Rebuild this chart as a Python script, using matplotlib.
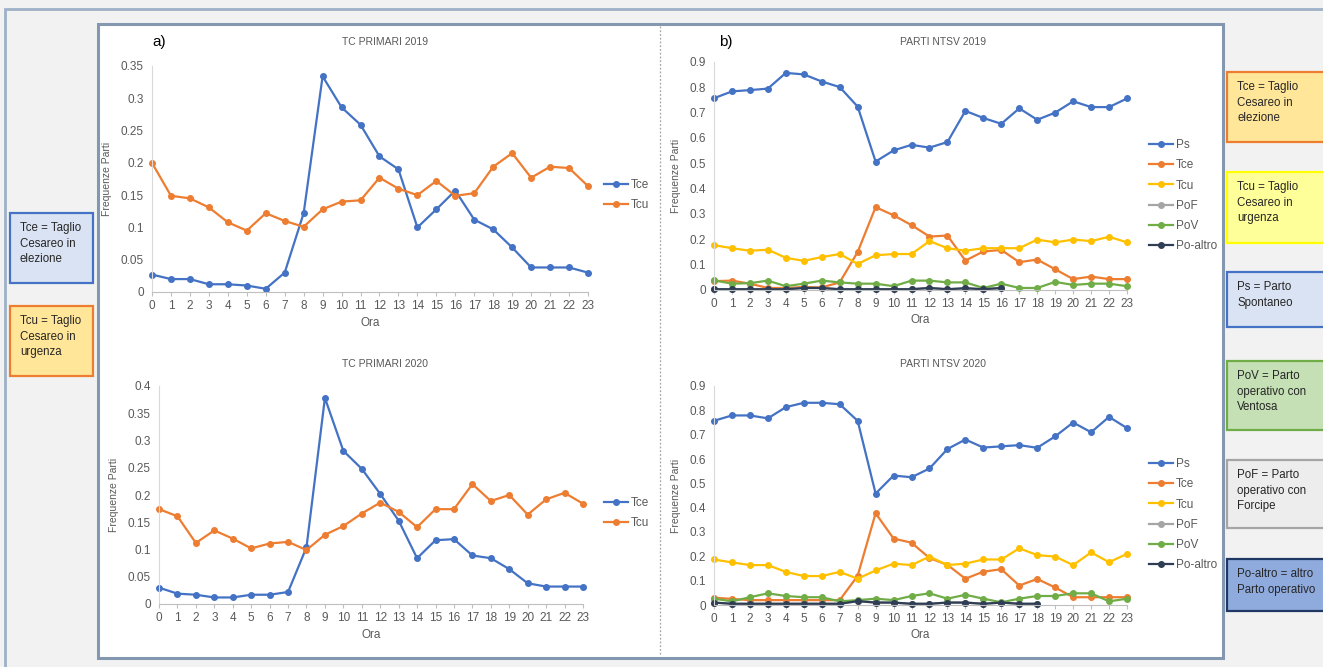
import matplotlib
matplotlib.use("Agg")
import matplotlib.pyplot as plt
from matplotlib.patches import Rectangle
from matplotlib.lines import Line2D

plt.rcParams.update({"font.family": ["Liberation Sans", "DejaVu Sans"], "font.size": 8})

W, H = 1323, 667
INK = "#595959"
BLUE, ORANGE, GREY, YELLOW, GREEN, NAVY = "#4472C4", "#ED7D31", "#A5A5A5", "#FFC000", "#70AD47", "#2F3E54"

hours = list(range(24))

# TC PRIMARI 2019
tc19_tce = [0.027, 0.020, 0.020, 0.012, 0.012, 0.010, 0.005, 0.030, 0.122, 0.334, 0.286, 0.259,
            0.210, 0.190, 0.100, 0.128, 0.157, 0.112, 0.097, 0.069, 0.038, 0.038, 0.038, 0.030]
tc19_tcu = [0.200, 0.149, 0.145, 0.131, 0.108, 0.095, 0.122, 0.110, 0.101, 0.128, 0.140, 0.142,
            0.177, 0.160, 0.150, 0.172, 0.149, 0.153, 0.194, 0.215, 0.177, 0.194, 0.192, 0.164]

# TC PRIMARI 2020
tc20_tce = [0.030, 0.019, 0.017, 0.012, 0.012, 0.017, 0.017, 0.022, 0.104, 0.378, 0.281, 0.248,
            0.202, 0.153, 0.084, 0.117, 0.119, 0.089, 0.084, 0.064, 0.038, 0.032, 0.032, 0.032]
tc20_tcu = [0.174, 0.161, 0.112, 0.135, 0.120, 0.102, 0.111, 0.114, 0.099, 0.127, 0.143, 0.166,
            0.186, 0.169, 0.141, 0.174, 0.174, 0.220, 0.189, 0.200, 0.164, 0.192, 0.204, 0.184]

# PARTI NTSV 2019
nt19_ps = [0.757, 0.784, 0.789, 0.795, 0.857, 0.851, 0.823, 0.801, 0.724, 0.507, 0.551, 0.573,
           0.562, 0.584, 0.707, 0.679, 0.656, 0.717, 0.672, 0.700, 0.745, 0.722, 0.722, 0.756]
nt19_tce = [0.035, 0.037, 0.025, 0.008, 0.008, 0.012, 0.010, 0.030, 0.150, 0.327, 0.295, 0.256,
            0.211, 0.215, 0.116, 0.152, 0.158, 0.110, 0.120, 0.082, 0.043, 0.053, 0.043, 0.043]
nt19_tcu = [0.177, 0.165, 0.155, 0.159, 0.127, 0.115, 0.130, 0.142, 0.103, 0.137, 0.142, 0.142,
            0.193, 0.165, 0.155, 0.165, 0.165, 0.165, 0.199, 0.188, 0.199, 0.193, 0.210, 0.188]
nt19_pov = [0.038, 0.025, 0.027, 0.037, 0.015, 0.025, 0.037, 0.030, 0.025, 0.025, 0.015, 0.037,
            0.037, 0.030, 0.030, 0.008, 0.025, 0.008, 0.008, 0.032, 0.020, 0.025, 0.025, 0.015]
nt19_alt = [0.003, 0.003, 0.003, 0.003, 0.003, 0.008, 0.008, 0.003, 0.003, 0.003, 0.003, 0.003,
            0.008, 0.003, 0.007, 0.003, 0.008]
nt19_pof = nt19_alt  # hidden under Po-altro

# PARTI NTSV 2020
nt20_ps = [0.757, 0.779, 0.779, 0.767, 0.813, 0.831, 0.831, 0.825, 0.757, 0.458, 0.532, 0.525,
           0.561, 0.641, 0.680, 0.647, 0.652, 0.657, 0.646, 0.693, 0.750, 0.710, 0.773, 0.727]
nt20_tce = [0.030, 0.025, 0.020, 0.020, 0.020, 0.020, 0.020, 0.020, 0.120, 0.377, 0.273, 0.256,
            0.193, 0.165, 0.108, 0.137, 0.147, 0.080, 0.107, 0.072, 0.032, 0.032, 0.032, 0.032]
nt20_tcu = [0.187, 0.175, 0.164, 0.164, 0.136, 0.119, 0.119, 0.136, 0.108, 0.142, 0.170, 0.164,
            0.199, 0.164, 0.170, 0.187, 0.187, 0.233, 0.205, 0.199, 0.164, 0.216, 0.176, 0.210]
nt20_pov = [0.026, 0.015, 0.032, 0.048, 0.037, 0.032, 0.032, 0.015, 0.020, 0.026, 0.020, 0.037,
            0.048, 0.026, 0.042, 0.026, 0.011, 0.026, 0.037, 0.037, 0.048, 0.048, 0.015, 0.026]
nt20_alt = [0.010, 0.005, 0.005, 0.005, 0.005, 0.005, 0.005, 0.005, 0.016, 0.010, 0.010, 0.005,
            0.005, 0.010, 0.010, 0.005, 0.010, 0.005, 0.005]
nt20_pof = nt20_alt


def frac(x0, y0, x1, y1):
    return [x0 / W, 1 - y1 / H, (x1 - x0) / W, (y1 - y0) / H]


def panel(fig, rect, ymax, ystep, series, legend_y):
    ax = fig.add_axes(frac(*rect))
    ax.set_zorder(5)
    ax.set_facecolor("none")
    for name, vals, col in series:
        ax.plot(hours[:len(vals)], vals, color=col, lw=1.6, marker="o", ms=4, label=name,
                clip_on=False)
    ax.set_xlim(0, 23)
    ax.set_ylim(0, ymax)
    ax.set_xticks(hours)
    ticks = [i * ystep for i in range(int(round(ymax / ystep)) + 1)]
    ax.set_yticks(ticks)
    ax.set_yticklabels(["0"] + [f"{t:g}" for t in ticks[1:]])
    for s in ("top", "right"):
        ax.spines[s].set_visible(False)
    ax.spines["left"].set_color("#d9d9d9")
    ax.spines["bottom"].set_color("#bfbfbf")
    ax.tick_params(axis="y", length=0, colors=INK, labelsize=8.5, pad=6)
    ax.tick_params(axis="x", length=3, color="#bfbfbf", colors=INK, labelsize=8.5, pad=3)
    ax.set_xlabel("Ora", color=INK, fontsize=8.5, labelpad=3)
    ax.set_ylabel("Frequenze Parti", color=INK, fontsize=7.5, labelpad=6)
    ax.legend(loc="upper left", bbox_to_anchor=legend_y, bbox_transform=fig.transFigure,
              frameon=False, fontsize=8.5, labelcolor=INK, handlelength=2.0,
              handletextpad=0.25, labelspacing=0.7, borderpad=0, borderaxespad=0)
    return ax


def box(fig, x0, y0, x1, y1, text, fc, ec):
    fig.patches.append(Rectangle((x0 / W, 1 - y1 / H), (x1 - x0) / W, (y1 - y0) / H,
                                 transform=fig.transFigure, facecolor=fc, edgecolor=ec,
                                 lw=1.6, zorder=2))
    fig.text((x0 + 10) / W, 1 - (y0 + 9) / H, text, ha="left", va="top", fontsize=8.3,
             color="#262626", linespacing=1.4, zorder=3)


fig = plt.figure(figsize=(W / 100, H / 100), dpi=100, facecolor="#f2f2f2")

# outer frame and white chart panel
fig.patches.append(Rectangle((5 / W, -0.1), 1.2, 1 - 9 / H + 0.1, transform=fig.transFigure,
                             facecolor="none", edgecolor="#9fb1c8", lw=2, zorder=-2))
fig.patches.append(Rectangle((98 / W, 1 - 658 / H), (1223 - 98) / W, (658 - 24) / H,
                             transform=fig.transFigure, facecolor="white",
                             edgecolor="#8497b0", lw=2.2, zorder=-1))
fig.lines.append(Line2D([660 / W, 660 / W], [1 - 26 / H, 1 - 656 / H], transform=fig.transFigure,
                        color="#a6a6a6", lw=0.9, ls=(0, (1.5, 1.5)), zorder=0))

panel(fig, (152, 66, 588, 292), 0.35, 0.05,
      [("Tce", tc19_tce, BLUE), ("Tcu", tc19_tcu, ORANGE)], (604 / W, 1 - 179 / H))
panel(fig, (159, 386, 583, 604), 0.4, 0.05,
      [("Tce", tc20_tce, BLUE), ("Tcu", tc20_tcu, ORANGE)], (604 / W, 1 - 497 / H))
nt_names = ["Ps", "Tce", "Tcu", "PoF", "PoV", "Po-altro"]
nt_cols = [BLUE, ORANGE, YELLOW, GREY, GREEN, NAVY]
panel(fig, (714, 62, 1127, 290), 0.9, 0.1,
      list(zip(nt_names, [nt19_ps, nt19_tce, nt19_tcu, nt19_pof, nt19_pov, nt19_alt], nt_cols)),
      (1149 / W, 1 - 139 / H))
panel(fig, (714, 386, 1127, 605), 0.9, 0.1,
      list(zip(nt_names, [nt20_ps, nt20_tce, nt20_tcu, nt20_pof, nt20_pov, nt20_alt], nt_cols)),
      (1149 / W, 1 - 458 / H))

fig.text(385 / W, 1 - 42 / H, "TC PRIMARI 2019", ha="center", va="center", fontsize=7.5, color=INK)
fig.text(385 / W, 1 - 364 / H, "TC PRIMARI 2020", ha="center", va="center", fontsize=7.5, color=INK)
fig.text(943 / W, 1 - 42 / H, "PARTI NTSV 2019", ha="center", va="center", fontsize=7.5, color=INK)
fig.text(943 / W, 1 - 364 / H, "PARTI NTSV 2020", ha="center", va="center", fontsize=7.5, color=INK)
fig.text(152 / W, 1 - 42 / H, "a)", ha="left", va="center", fontsize=11, color="black")
fig.text(719 / W, 1 - 42 / H, "b)", ha="left", va="center", fontsize=11, color="black")

# side explanation boxes
box(fig, 10, 213, 93, 283, "Tce = Taglio\nCesareo in\nelezione", "#dae3f3", BLUE)
box(fig, 10, 306, 93, 376, "Tcu = Taglio\nCesareo in\nurgenza", "#ffe699", ORANGE)
box(fig, 1227, 72, 1326, 142, "Tce = Taglio\nCesareo in\nelezione", "#ffe699", ORANGE)
box(fig, 1227, 172, 1326, 243, "Tcu = Taglio\nCesareo in\nurgenza", "#ffff99", "#ffff00")
box(fig, 1227, 272, 1326, 327, "Ps = Parto\nSpontaneo", "#dae3f3", BLUE)
box(fig, 1227, 361, 1326, 430, "PoV = Parto\noperativo con\nVentosa", "#c5e0b4", GREEN)
box(fig, 1227, 460, 1326, 528, "PoF = Parto\noperativo con\nForcipe", "#ededed", GREY)
box(fig, 1227, 559, 1326, 611, "Po-altro = altro\nParto operativo", "#8faadc", "#203864")

fig.savefig("out.png", dpi=100, facecolor=fig.get_facecolor())
